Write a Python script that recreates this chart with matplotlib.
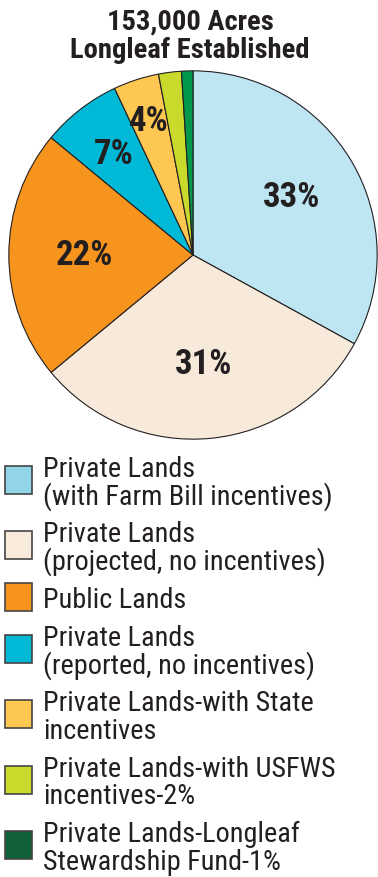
import matplotlib
matplotlib.use('Agg')
import matplotlib.pyplot as plt
from matplotlib.patches import Rectangle
import numpy as np

plt.rcParams['font.family'] = ['Roboto Condensed', 'DejaVu Sans']

# 面積の内訳 (%)
categories = [
    'Private Lands\n(with Farm Bill incentives)',
    'Private Lands\n(projected, no incentives)',
    'Public Lands',
    'Private Lands\n(reported, no incentives)',
    'Private Lands-with State\nincentives',
    'Private Lands-with USFWS\nincentives-2%',
    'Private Lands-Longleaf\nStewardship Fund-1%',
]
shares = [33, 31, 22, 7, 4, 2, 1]
title_lines = ['153,000 Acres', 'Longleaf Established']

pie_colors = ['#bee6f2', '#f8eada', '#f7941e', '#00b9d7', '#fec752', '#c9da2d', '#00994b']
legend_colors = ['#92d4e8', '#f8ebdc', '#f7941e', '#00b9d7', '#fec752', '#c9da2d', '#10603a']
# ラベルの半径位置 (小さい扇形はラベルなし)
label_radius = [0.62, 0.59, 0.59, 0.70, 0.77, None, None]

W, H = 378, 878
fig = plt.figure(figsize=(W / 100, H / 100), dpi=100)

# 円グラフ
cx, cy, r = 193, 256, 186
ax = fig.add_axes([(cx - r) / W, (H - cy - r) / H, 2 * r / W, 2 * r / H])
wedges, _ = ax.pie(shares, colors=pie_colors, startangle=90, counterclock=False,
                   wedgeprops=dict(edgecolor='#231f20', linewidth=0.8))
for w, v, rad in zip(wedges, shares, label_radius):
    if rad is None:
        continue
    ang = np.deg2rad((w.theta1 + w.theta2) / 2)
    ax.text(rad * np.cos(ang), rad * np.sin(ang), '{}%'.format(v),
            ha='center', va='center', fontsize=25, fontweight='bold',
            color='#231f20')
ax.set_xlim(-1.01, 1.01)
ax.set_ylim(-1.01, 1.01)

# タイトルと凡例はピクセル座標で配置
ov = fig.add_axes([0, 0, 1, 1])
ov.set_xlim(0, W)
ov.set_ylim(H, 0)
ov.axis('off')

for i, line in enumerate(title_lines):
    ov.text(190, 30 + i * 28, line, ha='center', va='baseline',
            fontsize=20.5, fontweight='bold', color='#231f20')

base = 477
pitch = 27.5
for label, col in zip(categories, legend_colors):
    lines = label.split('\n')
    for j, line in enumerate(lines):
        ov.text(43, base + j * pitch, line, ha='left', va='baseline',
                fontsize=20.3, color='#231f20')
    mid = base - 10 + (len(lines) - 1) * pitch / 2
    ov.add_patch(Rectangle((4.5, mid - 14), 27, 28, facecolor=col,
                           edgecolor='#444444', linewidth=1.2))
    base += (len(lines) - 1) * pitch + 38

fig.savefig('out.png', dpi=100)
